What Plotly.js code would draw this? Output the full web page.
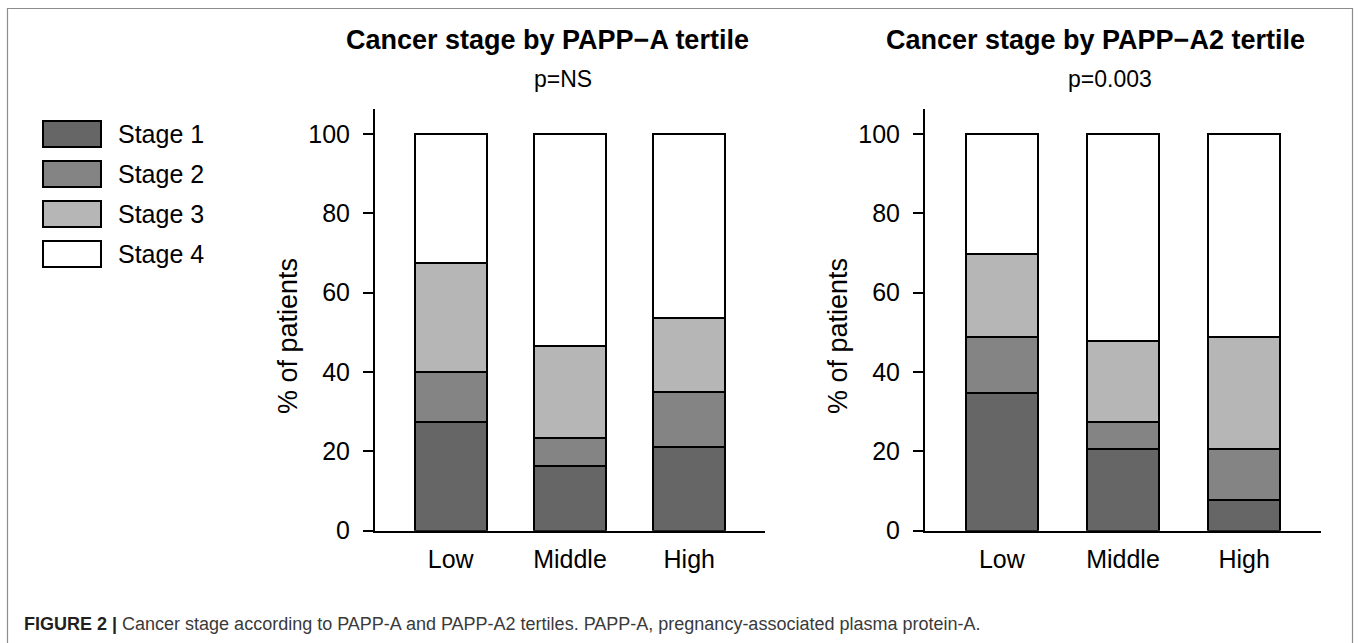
<!DOCTYPE html>
<html>
<head>
<meta charset="utf-8">
<script src="https://cdn.plot.ly/plotly-3.0.1.min.js"></script>
<style>
  html, body { margin: 0; padding: 0; background: #ffffff; }
  #chart { width: 1358px; height: 643px; }
</style>
</head>
<body>
<div id="chart"></div>
<script>
// ---- Data (percent of patients) ----
const categories = ['Low', 'Middle', 'High'];
const stageNames = ['Stage 1', 'Stage 2', 'Stage 3', 'Stage 4'];
const stageColors = ['#666666', '#848484', '#b6b6b6', '#ffffff'];

// PAPP-A tertiles
const pappA_stage1 = [27.5, 16.4, 21.0];
const pappA_stage2 = [12.6, 6.9, 13.9];
const pappA_stage3 = [27.3, 23.3, 18.7];
const pappA_stage4 = [32.6, 53.4, 46.4];

// PAPP-A2 tertiles
const pappA2_stage1 = [34.8, 20.6, 7.8];
const pappA2_stage2 = [14.0, 6.9, 12.8];
const pappA2_stage3 = [21.0, 20.4, 28.2];
const pappA2_stage4 = [30.2, 52.1, 51.2];

const panelTitles = ['Cancer stage by PAPP\u2212A tertile', 'Cancer stage by PAPP\u2212A2 tertile'];
const pValues = ['p=NS', 'p=0.003'];
const yTickVals = [0, 20, 40, 60, 80, 100];
const yTitle = '% of patients';
const caption = 'Cancer stage according to PAPP-A and PAPP-A2 tertiles. PAPP-A, pregnancy-associated plasma protein-A.';
const captionLabel = 'FIGURE 2 |';

// ---- Geometry helpers (pixel -> paper) ----
const W = 1358, H = 643;
const px = x => x / W;
const py = y => 1 - y / H;

const FONT = 'Liberation Sans, Arial, Helvetica, sans-serif';

const panelA = [pappA_stage1, pappA_stage2, pappA_stage3, pappA_stage4];
const panelA2 = [pappA2_stage1, pappA2_stage2, pappA2_stage3, pappA2_stage4];

const traces = [];
function addPanel(series, xa, ya) {
  series.forEach((vals, i) => {
    traces.push({
      type: 'bar',
      x: categories,
      y: vals,
      name: stageNames[i],
      xaxis: xa, yaxis: ya,
      width: 0.6,
      marker: { color: stageColors[i], line: { color: '#000000', width: 2 } },
      showlegend: false,
      hoverinfo: 'x+y+name'
    });
  });
}
addPanel(panelA, 'x', 'y');
addPanel(panelA2, 'x2', 'y2');

const yDomain = [py(530.7), py(109.3)];
const yRange = [0, 106.2];

function yAxis(anchor) {
  return {
    anchor: anchor,
    domain: yDomain,
    range: yRange,
    tickvals: yTickVals,
    ticks: 'outside', ticklen: 10, tickwidth: 2, tickcolor: '#000',
    showline: true, linewidth: 2, linecolor: '#000',
    showgrid: false, zeroline: false,
    tickfont: { family: FONT, size: 25, color: '#000' },
    ticklabelstandoff: 8,
    fixedrange: true
  };
}
function xAxis(anchor, d0, d1) {
  return {
    anchor: anchor,
    domain: [px(d0), px(d1)],
    range: [-0.635, 2.635],
    type: 'category',
    showline: true, linewidth: 2, linecolor: '#000',
    ticks: '', showgrid: false, zeroline: false,
    tickfont: { family: FONT, size: 25, color: '#000' },
    ticklabelstandoff: 5,
    fixedrange: true
  };
}

const annotations = [
  { text: '<b>' + panelTitles[0] + '</b>', x: px(547.5), y: py(40), xref: 'paper', yref: 'paper',
    xanchor: 'center', yanchor: 'middle', showarrow: false, font: { family: FONT, size: 27, color: '#000' } },
  { text: pValues[0], x: px(563), y: py(79), xref: 'paper', yref: 'paper',
    xanchor: 'center', yanchor: 'middle', showarrow: false, font: { family: FONT, size: 23, color: '#000' } },
  { text: '<b>' + panelTitles[1] + '</b>', x: px(1095), y: py(40), xref: 'paper', yref: 'paper',
    xanchor: 'center', yanchor: 'middle', showarrow: false, font: { family: FONT, size: 27, color: '#000' } },
  { text: pValues[1], x: px(1110), y: py(79), xref: 'paper', yref: 'paper',
    xanchor: 'center', yanchor: 'middle', showarrow: false, font: { family: FONT, size: 23, color: '#000' } },
  // y-axis titles
  { text: yTitle, x: px(288), y: py(336), xref: 'paper', yref: 'paper', textangle: -90,
    xanchor: 'center', yanchor: 'middle', showarrow: false, font: { family: FONT, size: 27, color: '#000' } },
  { text: yTitle, x: px(838), y: py(336), xref: 'paper', yref: 'paper', textangle: -90,
    xanchor: 'center', yanchor: 'middle', showarrow: false, font: { family: FONT, size: 27, color: '#000' } },
  { text: '<b><span style="color:#231f20">' + captionLabel + '</span></b> ' + caption,
    x: px(22), y: py(624), xref: 'paper', yref: 'paper',
    xanchor: 'left', yanchor: 'middle', showarrow: false,
    font: { family: 'Liberation Sans Narrow, Arial Narrow, ' + FONT, size: 18, color: '#3a3a3a' } }
];

const shapes = [
  // outer frame (left, top, right edges)
  { type: 'path', xref: 'paper', yref: 'paper',
    path: 'M ' + px(7.5) + ' ' + py(660) + ' L ' + px(7.5) + ' ' + py(8.5) +
          ' L ' + px(1352.5) + ' ' + py(8.5) + ' L ' + px(1352.5) + ' ' + py(660),
    line: { color: '#8c8c8c', width: 1.2 } }
];

// custom legend (large boxes)
stageNames.forEach((name, i) => {
  const top = 121 + i * 40, bottom = top + 26;
  shapes.push({ type: 'rect', xref: 'paper', yref: 'paper',
    x0: px(43), x1: px(101), y0: py(bottom), y1: py(top),
    fillcolor: stageColors[i], line: { color: '#000', width: 2 } });
  annotations.push({ text: name, x: px(116), y: py((top + bottom) / 2), xref: 'paper', yref: 'paper',
    xanchor: 'left', yanchor: 'middle', showarrow: false,
    font: { family: FONT, size: 25, color: '#000' } });
});

const layout = {
  width: W, height: H,
  margin: { l: 0, r: 0, t: 0, b: 0 },
  paper_bgcolor: '#ffffff', plot_bgcolor: '#ffffff',
  barmode: 'stack',
  bargap: 0.4,
  showlegend: false,
  xaxis: xAxis('y', 375, 765),
  yaxis: yAxis('x'),
  xaxis2: xAxis('y2', 925, 1321),
  yaxis2: yAxis('x2'),
  annotations: annotations,
  shapes: shapes
};

Plotly.newPlot('chart', traces, layout, { displayModeBar: false });
</script>
</body>
</html>
